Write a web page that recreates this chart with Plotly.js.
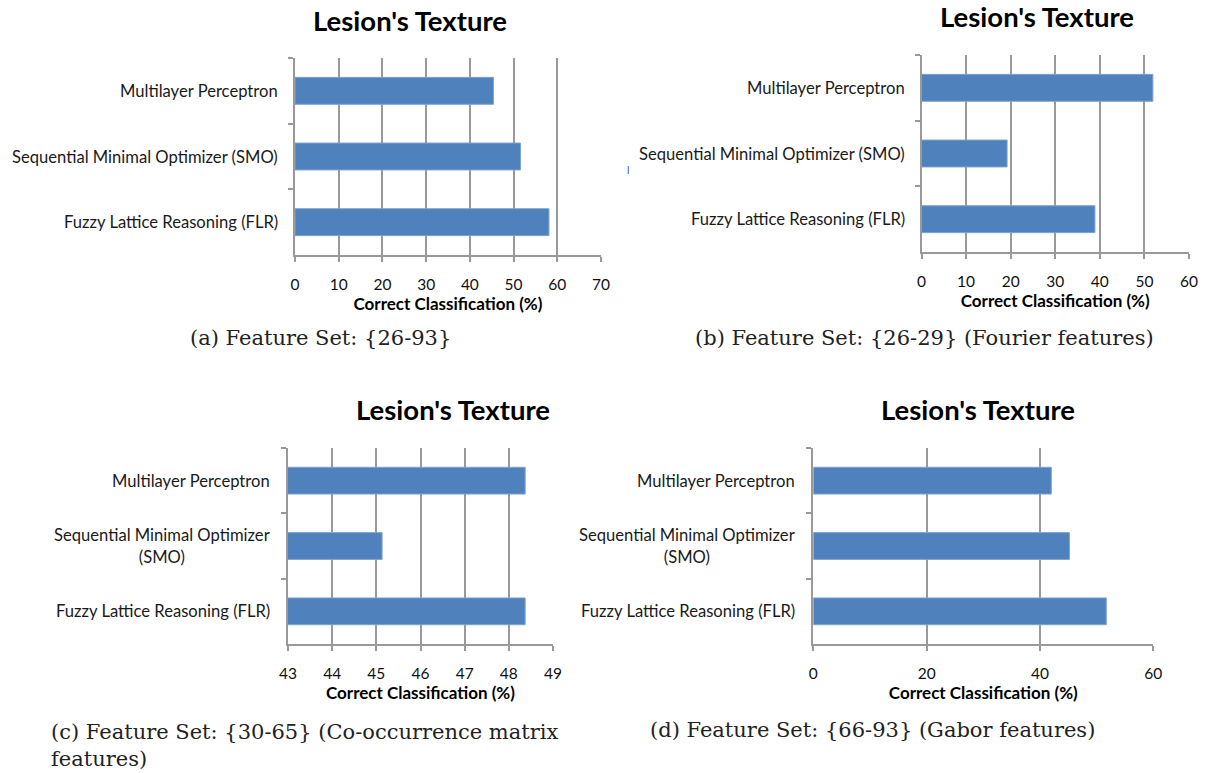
<!DOCTYPE html>
<html>
<head>
<meta charset="utf-8">
<script src="https://cdn.plot.ly/plotly-3.0.1.min.js"></script>
<style>
  html, body { margin: 0; padding: 0; background: #fff; }
  #chart { width: 1208px; height: 773px; }
</style>
</head>
<body>
<div id="chart"></div>
<script>
// ---- data ----
const methods = ["Multilayer Perceptron", "Sequential Minimal Optimizer (SMO)", "Fuzzy Lattice Reasoning (FLR)"];
const methodLabelsWrapped = ["Multilayer Perceptron", "Sequential Minimal Optimizer<br>(SMO)", "Fuzzy Lattice Reasoning (FLR)"];
const valuesA = [45.4, 51.6, 58.1];   // Feature Set {26-93}
const valuesB = [51.9, 19.2, 38.9];   // Feature Set {26-29} Fourier
const valuesC = [48.37, 45.13, 48.37]; // Feature Set {30-65} Co-occurrence
const valuesD = [42.0, 45.2, 51.7];   // Feature Set {66-93} Gabor
const chartTitle = "Lesion's Texture";
const xTitle = "Correct Classification (%)";
const captions = [
  "(a) Feature Set: {26-93}",
  "(b) Feature Set: {26-29} (Fourier features)",
  "(c) Feature Set: {30-65} (Co-occurrence matrix<br>features)",
  "(d) Feature Set: {66-93} (Gabor features)"
];

// ---- styling ----
const W = 1208, H = 773;
const barColor = "#4F81BD";
const gridColor = "#999999";
const labelFont = { family: "Lato, 'Open Sans', sans-serif", size: 16.6, color: "#1a1a1a" };
const tickFont = { family: "Lato, 'Open Sans', sans-serif", size: 15.5, color: "#111" };
const titleFont = { family: "Lato, 'Open Sans', sans-serif", size: 27.5, color: "#000", weight: "bold" };
const captionFont = { family: "'DejaVu Serif', serif", size: 21, color: "#222" };

const px = v => v / W;
const py = v => 1 - v / H;

function bar(values, xa, ya) {
  return {
    type: "bar", orientation: "h",
    x: values, y: methods, xaxis: xa, yaxis: ya,
    marker: { color: barColor, line: { color: "#7FA3D1", width: 1 } },
    hoverinfo: "x+y", showlegend: false
  };
}

function xAxis(domain, anchor, range, dtick) {
  return {
    domain: domain, anchor: anchor, range: range, dtick: dtick,
    showgrid: true, gridcolor: gridColor, gridwidth: 2,
    zeroline: false, showline: true, linecolor: gridColor, linewidth: 2,
    ticks: "outside", ticklen: 5, tickcolor: gridColor, tickwidth: 2,
    tickfont: tickFont, ticklabelstandoff: 9,
    title: { text: "<b>" + xTitle + "</b>", font: { family: tickFont.family, size: 17, color: "#000" }, standoff: 1 },
    fixedrange: true
  };
}
function yAxis(domain, anchor) {
  return {
    domain: domain, anchor: anchor, type: "category", autorange: "reversed",
    showgrid: false, zeroline: false, showline: true, linecolor: gridColor, linewidth: 2,
    ticks: "outside", ticklen: 5, tickcolor: gridColor, tickwidth: 2,
    tickson: "boundaries", showticklabels: false, fixedrange: true
  };
}

const data = [
  bar(valuesA, "x", "y"),
  bar(valuesB, "x2", "y2"),
  bar(valuesC, "x3", "y3"),
  bar(valuesD, "x4", "y4")
];

const annotations = [];
function catLabels(labels, xref, yref, shift) {
  labels.forEach((t, i) => {
    annotations.push({
      text: t, xref: xref + " domain", x: 0, xanchor: "right", xshift: shift,
      yref: yref, y: methods[i], yanchor: "middle",
      showarrow: false, align: "center", font: labelFont
    });
  });
}
catLabels(methods, "x", "y", -15);
catLabels(methods, "x2", "y2", -15);
catLabels(methodLabelsWrapped, "x3", "y3", -16);
catLabels(methodLabelsWrapped, "x4", "y4", -16);

// chart titles
[[410, 20], [1037, 17], [453, 410], [978, 410]].forEach(p => {
  annotations.push({ text: "<b>" + chartTitle + "</b>", xref: "paper", yref: "paper",
    x: px(p[0]), y: py(p[1]), xanchor: "center", yanchor: "middle", showarrow: false, font: titleFont });
});
// captions
[[188, 338], [693, 338], [49, 745], [648, 730]].forEach((p, i) => {
  annotations.push({ text: captions[i], xref: "paper", yref: "paper",
    x: px(p[0]), y: py(p[1]), xanchor: "left", yanchor: "middle", align: "left",
    showarrow: false, font: captionFont });
});

const layout = {
  width: W, height: H,
  margin: { l: 0, r: 0, t: 0, b: 0 },
  paper_bgcolor: "#fff", plot_bgcolor: "#fff",
  bargap: 0.59,
  xaxis: xAxis([px(295), px(601)], "y", [0, 70], 10),
  yaxis: yAxis([py(255), py(58)], "x"),
  xaxis2: xAxis([px(921.5), px(1189)], "y2", [0, 60], 10),
  yaxis2: yAxis([py(252), py(55)], "x2"),
  xaxis3: xAxis([px(288), px(553)], "y3", [43, 49], 1),
  yaxis3: yAxis([py(644), py(448)], "x3"),
  xaxis4: xAxis([px(813.3), px(1153.3)], "y4", [0, 60], 20),
  yaxis4: yAxis([py(644), py(448)], "x4"),
  annotations: annotations,
  shapes: [
    { type: "line", xref: "paper", yref: "paper", x0: px(628.3), x1: px(628.3), y0: py(166), y1: py(174),
      line: { color: barColor, width: 1.2 } }
  ]
};

Plotly.newPlot("chart", data, layout, { staticPlot: true, displayModeBar: false });
</script>
</body>
</html>
